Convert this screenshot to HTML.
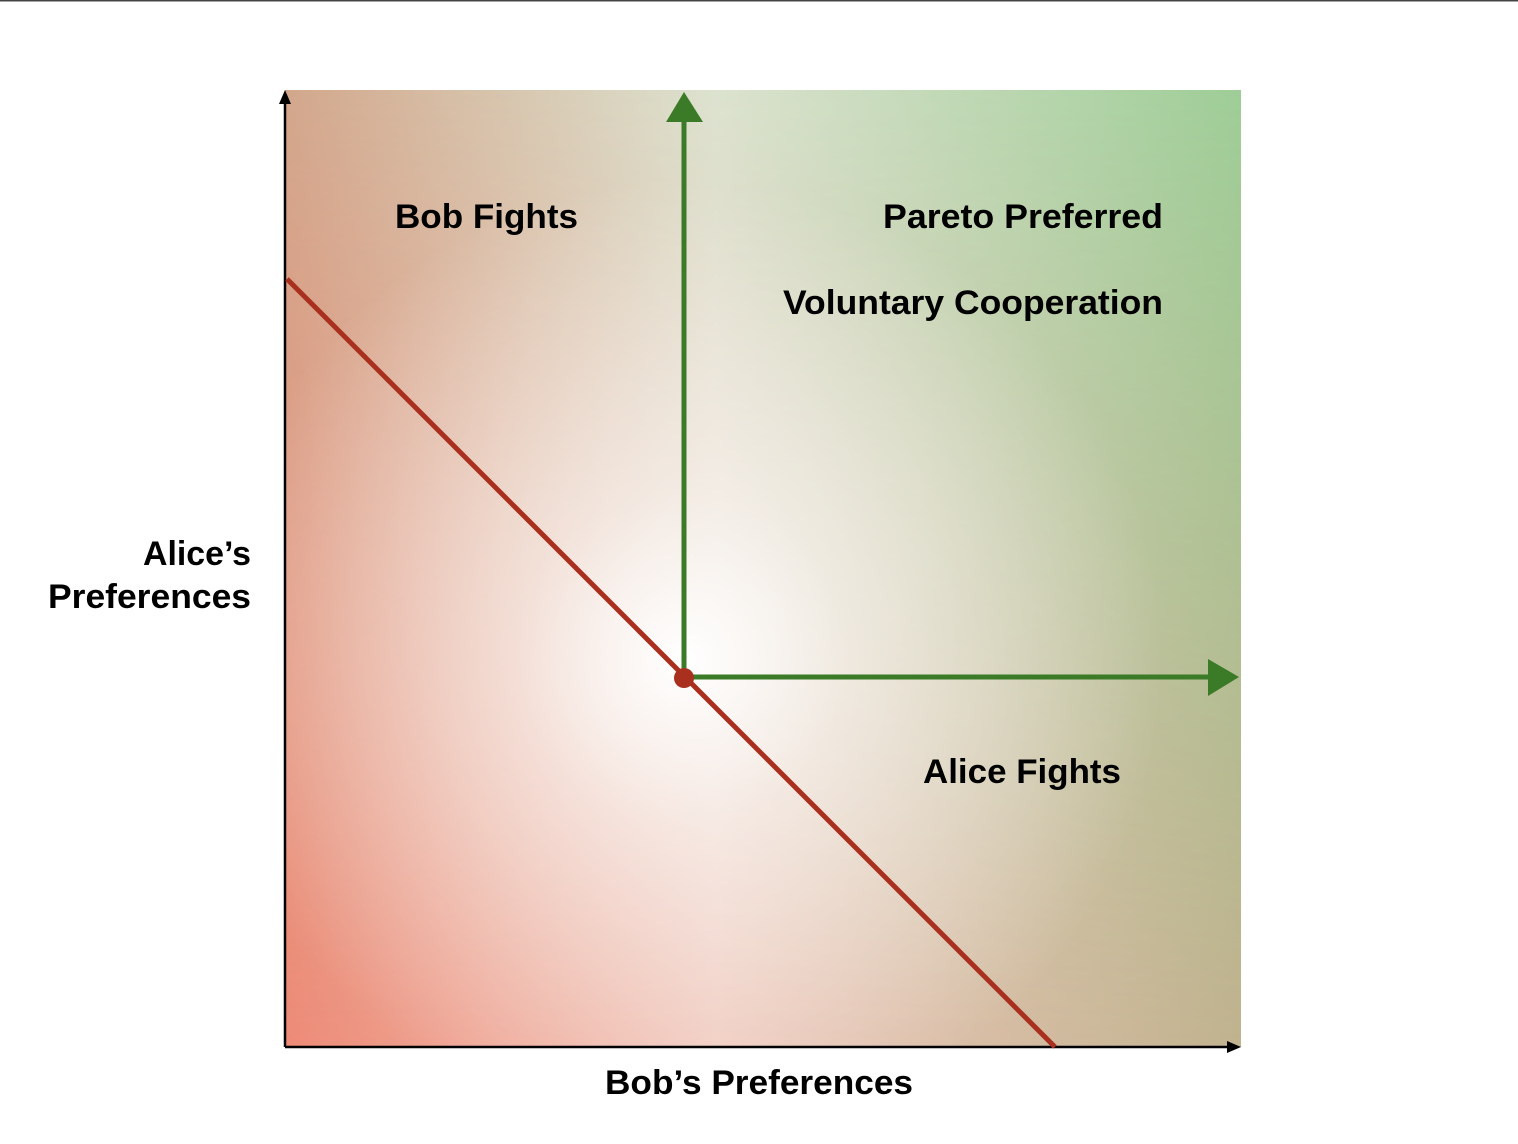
<!DOCTYPE html>
<html><head><meta charset="utf-8"><style>
html,body{margin:0;padding:0;background:#fff;width:1518px;height:1144px;overflow:hidden}
svg{display:block}
text{font-family:"Liberation Sans",sans-serif;font-weight:bold;font-size:34px;fill:#000}
</style></head><body>
<svg width="1518" height="1144" viewBox="0 0 1518 1144">
<defs>
<linearGradient id="top" x1="0" x2="1" y1="0" y2="0">
<stop offset="0" stop-color="#d2a78c"/><stop offset="0.45" stop-color="#dce2cf"/><stop offset="1" stop-color="#9ecd97"/></linearGradient>
<linearGradient id="bot" x1="0" x2="1" y1="0" y2="0">
<stop offset="0" stop-color="#ee8b77"/><stop offset="0.45" stop-color="#f0c8bc"/><stop offset="1" stop-color="#c1b38f"/></linearGradient>
<linearGradient id="vm" x1="0" x2="0" y1="0" y2="1">
<stop offset="0" stop-color="#fff"/><stop offset="1" stop-color="#000"/></linearGradient>
<mask id="m"><rect x="285" y="90" width="956" height="957" fill="url(#vm)"/></mask>
<radialGradient id="rw" cx="684" cy="660" r="480" gradientUnits="userSpaceOnUse">
<stop offset="0" stop-color="#fff" stop-opacity="1"/><stop offset="0.35" stop-color="#fff" stop-opacity="0.55"/><stop offset="1" stop-color="#fff" stop-opacity="0"/></radialGradient>
</defs>
<line x1="0" y1="0.5" x2="1518" y2="0.5" stroke="#444" stroke-width="2"/>
<rect x="285" y="90" width="956" height="957" fill="url(#bot)"/>
<rect x="285" y="90" width="956" height="957" fill="url(#top)" mask="url(#m)"/>
<rect x="285" y="90" width="956" height="957" fill="url(#rw)"/>
<line x1="285" y1="1047" x2="285" y2="100" stroke="#000" stroke-width="2.5"/>
<polygon points="285,90 279,104 291,104" fill="#000"/>
<line x1="285" y1="1047" x2="1230" y2="1047" stroke="#000" stroke-width="2.5"/>
<polygon points="1241,1047 1227,1041 1227,1053" fill="#000"/>
<line x1="287" y1="279" x2="1055" y2="1047" stroke="#a9301f" stroke-width="5"/>
<line x1="684" y1="677" x2="684" y2="115" stroke="#3b7a27" stroke-width="5"/>
<polygon points="684,92 666,122 703,122" fill="#3b7a27"/>
<line x1="684" y1="677" x2="1215" y2="677" stroke="#3b7a27" stroke-width="5"/>
<polygon points="1239,677 1208,659 1208,696" fill="#3b7a27"/>
<circle cx="684" cy="678" r="10" fill="#a9301f"/>
<text x="395" y="228" textLength="183" lengthAdjust="spacingAndGlyphs">Bob Fights</text>
<text x="883" y="228" textLength="280" lengthAdjust="spacingAndGlyphs">Pareto Preferred</text>
<text x="783" y="314" textLength="380" lengthAdjust="spacingAndGlyphs">Voluntary Cooperation</text>
<text x="923" y="783" textLength="198" lengthAdjust="spacingAndGlyphs">Alice Fights</text>
<text x="143" y="565" textLength="108" lengthAdjust="spacingAndGlyphs">Alice’s</text>
<text x="48" y="608" textLength="203" lengthAdjust="spacingAndGlyphs">Preferences</text>
<text x="605" y="1094" textLength="308" lengthAdjust="spacingAndGlyphs">Bob’s Preferences</text>
</svg>
</body></html>
